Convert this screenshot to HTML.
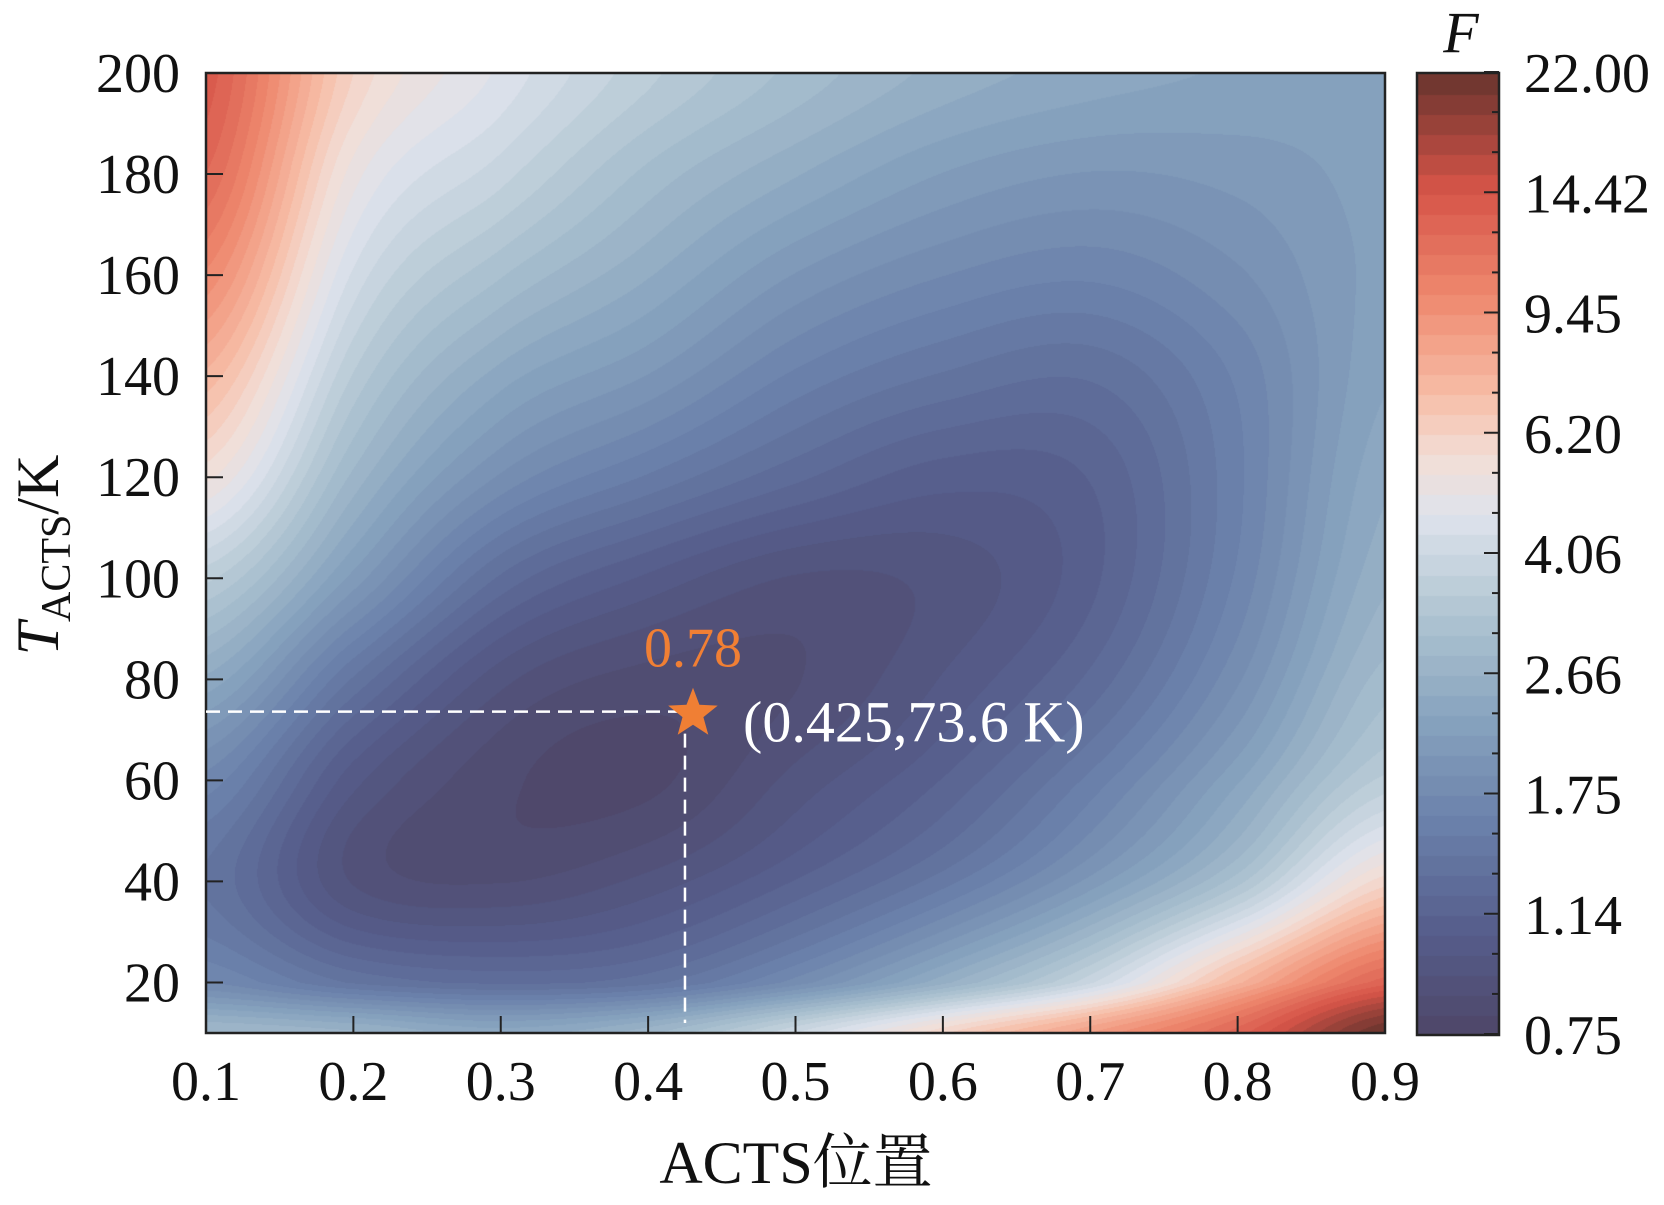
<!DOCTYPE html>
<html><head><meta charset="utf-8"><style>
html,body{margin:0;padding:0;background:#fff;}
#root{position:relative;width:1664px;height:1205px;overflow:hidden;font-family:"Liberation Serif","Noto Serif CJK SC",serif;}
canvas{position:absolute;}
svg{position:absolute;left:0;top:0;}
</style></head><body>
<div id="root">
<canvas id="heat" width="1179" height="960" style="left:206px;top:73px;"></canvas>
<canvas id="cbar" width="82" height="962" style="left:1417px;top:73px;"></canvas>
<svg id="ov" width="1664" height="1205"></svg>
</div>
<script>
const xVals=[0.1,0.2,0.3,0.4,0.5,0.6,0.7,0.8,0.9];
const tVals=[10,20,40,60,80,100,120,140,160,180,200];
// F values, one row per x, columns per T
const fRows=[
 [2.89,1.75,1.40,1.70,2.44,3.60,5.5,7.5,10.0,12.5,14.0],
 [2.71,1.40,0.92,1.02,1.40,2.1,2.8,3.5,4.3,5.2,6.2],
 [2.40,1.30,0.86,0.82,0.95,1.30,1.85,2.40,3.09,3.9,4.6],
 [2.80,1.38,0.95,0.79,0.84,1.05,1.50,2.00,2.50,3.00,3.60],
 [4.06,1.80,1.15,0.95,0.86,0.92,1.25,1.60,2.00,2.50,3.00],
 [6.1,2.60,1.47,1.15,1.00,0.95,1.10,1.40,1.75,2.15,2.60],
 [8.8,4.0,2.06,1.55,1.25,1.12,1.15,1.33,1.65,2.00,2.40],
 [13.0,7.5,3.2,2.29,1.85,1.65,1.60,1.65,1.85,2.06,2.29],
 [22.0,13.0,6.0,3.6,2.95,2.62,2.44,2.29,2.21,2.21,2.21]
];
const cbTicks=["0.75","1.14","1.75","2.66","4.06","6.20","9.45","14.42","22.00"];
const xTicks=["0.1","0.2","0.3","0.4","0.5","0.6","0.7","0.8","0.9"];
const yTicks=[20,40,60,80,100,120,140,160,180,200];
const optX=[0.425], optT=[73.6], optF=["0.78"];

const PL=206,PR=1385,PT=73,PB=1033,XMIN=0.1,XMAX=0.9,TMIN=10,TMAX=200;
const sx=v=>PL+(v-XMIN)/(XMAX-XMIN)*(PR-PL);
const sy=v=>PB-(v-TMIN)/(TMAX-TMIN)*(PB-PT);
const FMIN=0.75,FMAX=22,NB=48;
const stops=[[0,[78,70,104]],[0.11,[86,94,140]],[0.22,[106,128,170]],[0.33,[135,163,190]],[0.44,[176,197,210]],[0.54,[222,227,236]],[0.6,[242,222,215]],[0.67,[247,188,165]],[0.77,[238,136,110]],[0.88,[214,84,72]],[1,[105,52,46]]];
function cmap(t){t=Math.max(0,Math.min(1,t));for(let i=1;i<stops.length;i++){if(t<=stops[i][0]){const a=stops[i-1],b=stops[i],u=(t-a[0])/(b[0]-a[0]);return a[1].map((c,k)=>Math.round(c+(b[1][k]-c)*u));}}return stops[stops.length-1][1];}
const tpos=F=>Math.log(F/FMIN)/Math.log(FMAX/FMIN);
function band(t){const b=Math.min(NB-1,Math.max(0,Math.floor(t*NB)));return (b+0.5)/NB;}
function seg(arr,v){let i=0;while(i<arr.length-2&&v>arr[i+1])i++;return [i,Math.max(0,Math.min(1,(v-arr[i])/(arr[i+1]-arr[i])))];}
function cr(p0,p1,p2,p3,u){return 0.5*((2*p1)+(-p0+p2)*u+(2*p0-5*p1+4*p2-p3)*u*u+(-p0+3*p1-3*p2+p3)*u*u*u);}
(function(){
 const c=document.getElementById('heat'),ctx=c.getContext('2d'),W=c.width,H=c.height;
 const img=ctx.createImageData(W,H),d=img.data;
 const L=fRows.map(r=>r.map(v=>tpos(v)));
 const nx=L.length,nt=L[0].length;
 const g=(i,j)=>L[Math.max(0,Math.min(nx-1,i))][Math.max(0,Math.min(nt-1,j))];
 const colCache={};
 for(let py=0;py<H;py++){
  const T=TMAX-(py+0.5)/H*(TMAX-TMIN);const [j,v]=seg(tVals,T);
  for(let px=0;px<W;px++){
   const X=XMIN+(px+0.5)/W*(XMAX-XMIN);const [i,u]=seg(xVals,X);
   const col4=[];
   for(let a=-1;a<=2;a++)col4.push(cr(g(i+a,j-1),g(i+a,j),g(i+a,j+1),g(i+a,j+2),v));
   const t=cr(col4[0],col4[1],col4[2],col4[3],u);
   const b=band(t);let col=colCache[b]||(colCache[b]=cmap(b));
   const k=(py*W+px)*4;d[k]=col[0];d[k+1]=col[1];d[k+2]=col[2];d[k+3]=255;
  }
 }
 ctx.putImageData(img,0,0);
 const cb=document.getElementById('cbar'),c2=cb.getContext('2d');
 for(let b=0;b<NB;b++){const col=cmap((b+0.5)/NB);c2.fillStyle=`rgb(${col})`;const y0=cb.height*(1-(b+1)/NB),y1=cb.height*(1-b/NB);c2.fillRect(0,Math.floor(y0),cb.width,Math.ceil(y1-y0)+1);}
})();
const NS='http://www.w3.org/2000/svg',ov=document.getElementById('ov');
function mk(tag,attrs,txt){const e=document.createElementNS(NS,tag);for(const k in attrs)e.setAttribute(k,attrs[k]);if(txt!==undefined)e.textContent=txt;ov.appendChild(e);return e;}
let e;
e=mk('rect',{x:PL,y:PT,width:PR-PL,height:PB-PT,fill:'none',stroke:'#222','stroke-width':2.5});


xTicks.forEach((lab,i)=>{const x=sx(parseFloat(lab));
 e=mk('line',{x1:x,y1:PB,x2:x,y2:PB-17,stroke:'#222','stroke-width':2});
 
 
 e=mk('text',{x:x,y:1100,'font-size':56,'text-anchor':'middle',fill:'#111'},lab);
 
 
});
yTicks.forEach(v=>{const y=sy(v);
 e=mk('line',{x1:PL,y1:y,x2:PL+17,y2:y,stroke:'#222','stroke-width':2});
 
 
 e=mk('text',{x:180,y:y+19,'font-size':56,'text-anchor':'end',fill:'#111'},String(v));
 
 
});
e=mk('text',{x:796,y:1183,'font-size':60,'text-anchor':'middle',fill:'#111'},'ACTS位置');


e=mk('text',{transform:'translate(58,555) rotate(-90)','font-size':60,'text-anchor':'middle',fill:'#111'});


e.innerHTML='<tspan font-style="italic">T</tspan><tspan font-size="42" dy="12">ACTS</tspan><tspan dy="-12">/K</tspan>';
const CL=1417,CR=1499;
e=mk('rect',{x:CL,y:PT,width:CR-CL,height:PB-PT+2,fill:'none',stroke:'#222','stroke-width':2.5});


cbTicks.forEach((lab,i)=>{const y=PB+1-(i/(cbTicks.length-1))*(PB-PT+2);
 e=mk('line',{x1:CR,y1:y,x2:CR-15,y2:y,stroke:'#222','stroke-width':2});
 
 
 if(i<cbTicks.length-1){for(let m=1;m<3;m++){const ym=y-m/3*(PB-PT+2)/(cbTicks.length-1);
  e=mk('line',{x1:CR,y1:ym,x2:CR-7,y2:ym,stroke:'#222','stroke-width':2});
  
  }}
 e=mk('text',{x:1524,y:y+20,'font-size':56,fill:'#111'},lab);
 
 
});
e=mk('text',{x:1461,y:52,'font-size':58,'font-style':'italic','text-anchor':'middle',fill:'#111'},'F');


const ox=sx(optX[0]),oy=sy(optT[0]);
e=mk('line',{x1:PL,y1:oy,x2:ox,y2:oy,stroke:'#fff','stroke-width':2.5,'stroke-dasharray':'14 8'});


e=mk('line',{x1:ox,y1:oy,x2:ox,y2:PB-10,stroke:'#fff','stroke-width':2.5,'stroke-dasharray':'14 8'});


const cx=ox+8,cy=oy+2,R=26,r=11;let pts=[];
for(let k=0;k<10;k++){const a=-Math.PI/2+k*Math.PI/5,rr=k%2?r:R;pts.push((cx+rr*Math.cos(a)).toFixed(1)+','+(cy+rr*Math.sin(a)).toFixed(1));}
e=mk('polygon',{points:pts.join(' '),fill:'#f07f34'});


e=mk('text',{x:cx,y:oy-45,'font-size':56,'text-anchor':'middle',fill:'#f07f34'},optF[0]);


e=mk('text',{x:743,y:oy+30,'font-size':58,fill:'#fff'},`(${optX[0]},${optT[0]} K)`);


</script>
</body></html>
